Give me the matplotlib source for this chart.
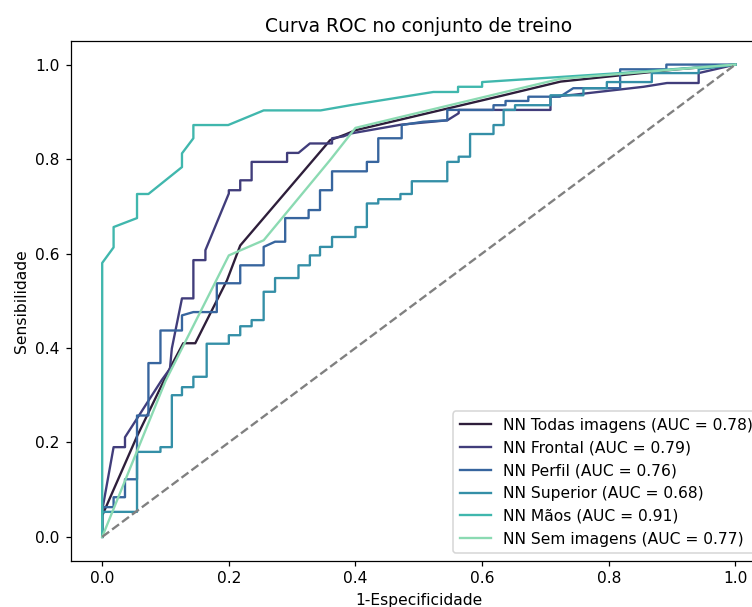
import matplotlib
matplotlib.use('Agg')
import matplotlib.pyplot as plt
import seaborn as sns

# ROC points (FPR, TPR) for each network
todas_fpr = [0.0, 0.0, 0.055, 0.107, 0.128, 0.147, 0.197, 0.218, 0.36, 0.384, 0.40, 0.634, 0.724, 0.908, 1.0]
todas_tpr = [0.0, 0.045, 0.213, 0.357, 0.41, 0.41, 0.543, 0.617, 0.84, 0.852, 0.861, 0.935, 0.964, 0.99, 1.0]

frontal_fpr = [0.0, 0.0, 0.018, 0.036, 0.036, 0.06, 0.094, 0.107, 0.11, 0.126, 0.144, 0.144, 0.163, 0.163,
               0.2, 0.2, 0.218, 0.218, 0.236, 0.236, 0.292, 0.292, 0.31, 0.328, 0.363, 0.363, 0.381,
               0.392, 0.473, 0.545, 0.563, 0.563, 0.708, 0.708, 0.744, 0.855, 0.892, 0.942, 0.942, 1.0]
frontal_tpr = [0.0, 0.056, 0.19, 0.19, 0.211, 0.261, 0.332, 0.356, 0.399, 0.505, 0.505, 0.586, 0.586, 0.607,
               0.727, 0.734, 0.734, 0.755, 0.755, 0.794, 0.794, 0.813, 0.813, 0.833, 0.833, 0.844, 0.848,
               0.854, 0.873, 0.882, 0.897, 0.904, 0.904, 0.932, 0.936, 0.953, 0.961, 0.961, 0.982, 1.0]

perfil_fpr = [0.0, 0.0, 0.018, 0.018, 0.036, 0.036, 0.055, 0.055, 0.073, 0.073, 0.092, 0.092, 0.126,
              0.126, 0.144, 0.181, 0.181, 0.218, 0.218, 0.255, 0.255, 0.273, 0.289, 0.289, 0.326, 0.326,
              0.344, 0.344, 0.363, 0.363, 0.418, 0.418, 0.436, 0.436, 0.473, 0.473, 0.507, 0.545, 0.545,
              0.618, 0.618, 0.637, 0.637, 0.673, 0.673, 0.723, 0.744, 0.818, 0.818, 0.868, 0.891, 0.891, 1.0]
perfil_tpr = [0.0, 0.063, 0.063, 0.084, 0.084, 0.122, 0.122, 0.257, 0.257, 0.368, 0.368, 0.437, 0.437,
              0.469, 0.476, 0.476, 0.537, 0.537, 0.575, 0.575, 0.614, 0.625, 0.625, 0.675, 0.675, 0.692,
              0.692, 0.734, 0.734, 0.774, 0.774, 0.794, 0.794, 0.844, 0.844, 0.872, 0.879, 0.882, 0.904,
              0.904, 0.914, 0.914, 0.923, 0.923, 0.932, 0.932, 0.95, 0.95, 0.99, 0.99, 0.99, 1.0, 1.0]

superior_fpr = [0.0, 0.0, 0.055, 0.055, 0.092, 0.092, 0.11, 0.11, 0.126, 0.126, 0.144, 0.144, 0.165, 0.165,
                0.2, 0.2, 0.218, 0.218, 0.236, 0.236, 0.255, 0.255, 0.273, 0.273, 0.31, 0.31, 0.328, 0.328,
                0.344, 0.344, 0.363, 0.363, 0.40, 0.40, 0.418, 0.418, 0.436, 0.436, 0.471, 0.471, 0.489,
                0.489, 0.545, 0.545, 0.563, 0.563, 0.581, 0.581, 0.618, 0.618, 0.634, 0.634, 0.652, 0.652,
                0.708, 0.708, 0.76, 0.76, 0.797, 0.797, 0.868, 0.868, 0.942, 0.942, 1.0]
superior_tpr = [0.0, 0.053, 0.053, 0.18, 0.18, 0.19, 0.19, 0.30, 0.30, 0.317, 0.317, 0.339, 0.339, 0.409,
                0.409, 0.427, 0.427, 0.446, 0.446, 0.459, 0.459, 0.519, 0.519, 0.548, 0.548, 0.575, 0.575,
                0.596, 0.596, 0.614, 0.614, 0.635, 0.635, 0.656, 0.656, 0.706, 0.706, 0.715, 0.715, 0.726,
                0.726, 0.753, 0.753, 0.794, 0.794, 0.805, 0.805, 0.853, 0.853, 0.872, 0.872, 0.904, 0.904,
                0.914, 0.914, 0.935, 0.935, 0.95, 0.95, 0.963, 0.963, 0.982, 0.982, 0.99, 1.0]

maos_fpr = [0.0, 0.0, 0.018, 0.018, 0.055, 0.055, 0.073, 0.126, 0.126, 0.144, 0.144, 0.199, 0.255, 0.345,
            0.392, 0.523, 0.562, 0.562, 0.60, 0.60, 0.818, 1.0]
maos_tpr = [0.0, 0.58, 0.613, 0.656, 0.675, 0.726, 0.726, 0.783, 0.812, 0.844, 0.872, 0.872, 0.903, 0.903,
            0.914, 0.942, 0.942, 0.953, 0.953, 0.963, 0.982, 1.0]

sem_fpr = [0.0, 0.10, 0.2, 0.255, 0.36, 0.40, 0.465, 0.63, 0.724, 1.0]
sem_tpr = [0.0, 0.33, 0.596, 0.628, 0.798, 0.866, 0.887, 0.94, 0.97, 1.0]

labels = ["NN Todas imagens", "NN Frontal", "NN Perfil", "NN Superior", "NN Mãos", "NN Sem imagens"]
aucs = [0.78, 0.79, 0.76, 0.68, 0.91, 0.77]

curves = [(todas_fpr, todas_tpr), (frontal_fpr, frontal_tpr), (perfil_fpr, perfil_tpr),
          (superior_fpr, superior_tpr), (maos_fpr, maos_tpr), (sem_fpr, sem_tpr)]

colors = sns.color_palette("mako", 6)

DPI = 112
fig = plt.figure(figsize=(752 / DPI, 607 / DPI), dpi=DPI)
ax = fig.add_axes([0.0938, 0.0766, 0.9262, 0.8559])

for (fpr, tpr), name, auc, c in zip(curves, labels, aucs, colors):
    ax.plot(fpr, tpr, color=c, label=f"{name} (AUC = {auc:.2f})")

ax.plot([0, 1], [0, 1], color='gray', linestyle='--')
ax.set_xlabel("1-Especificidade")
ax.set_ylabel("Sensibilidade")
ax.set_title("Curva ROC no conjunto de treino")
ax.legend(loc='lower right')

fig.savefig("out.png", dpi=DPI)
